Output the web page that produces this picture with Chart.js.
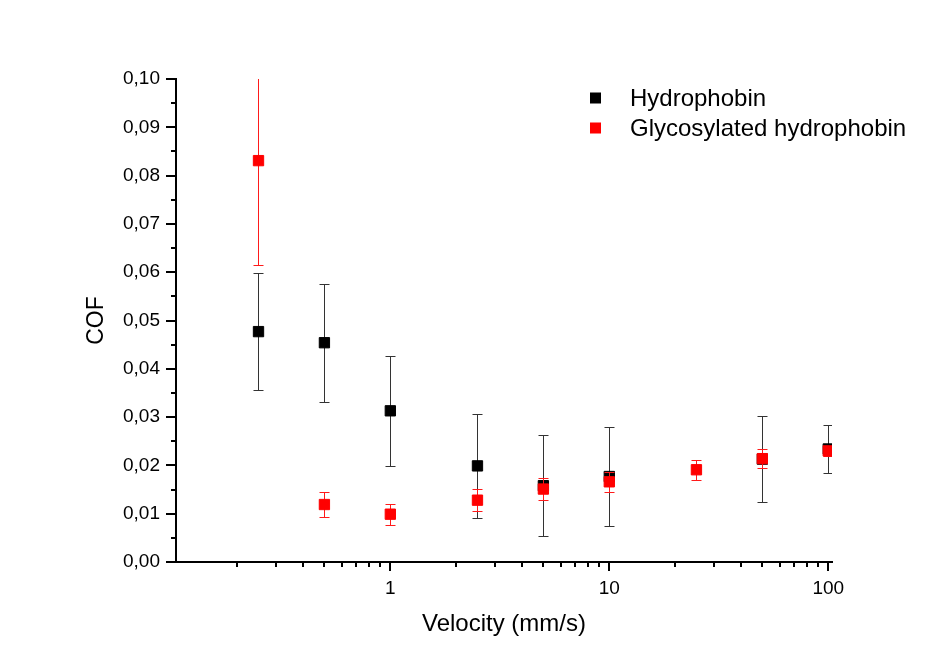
<!DOCTYPE html>
<html>
<head>
<meta charset="utf-8">
<script src="https://cdn.jsdelivr.net/npm/chart.js@4.4.1/dist/chart.umd.min.js"></script>
<style>
  html, body { margin: 0; padding: 0; background: #fff; }
  #wrap { width: 952px; height: 655px; }
</style>
</head>
<body>
<div id="wrap"><canvas id="myChart" width="952" height="655"></canvas></div>
<script>
'use strict';

// velocity in mm/s
let velocity = [0.25, 0.5, 1, 2.5, 5, 10, 25, 50, 100];

let hydCof = [0.0477, 0.0454, 0.0313, 0.0199, 0.0158, 0.0177, null, 0.0213, 0.0234];
let hydErr = [0.0121, 0.0122, 0.0114, 0.0107, 0.0105, 0.0103, null, 0.0089, 0.0050];

let glyCof = [0.0831, 0.0119, 0.0099, 0.0128, 0.0151, 0.0166, 0.0191, 0.0214, 0.0230];
let glyErr = [0.0216, 0.0026, 0.0022, 0.0023, 0.0023, 0.0021, 0.0021, 0.0019, 0.0010];

let xTicks = [1, 10, 100];
let seriesNames = ['Hydrophobin', 'Glycosylated hydrophobin'];

let fontFam = 'Arial, "Liberation Sans", sans-serif';

function toPoints(ys) {
  return velocity.map(function (v, i) {
    return { x: v, y: ys[i] };
  });
}

// error bars, drawn just before each dataset's squares
let errorBars = {
  id: 'errorBars',
  beforeDatasetDraw(chart, args) {
    let ds = chart.data.datasets[args.index];
    let xs = chart.scales.x;
    let ys = chart.scales.y;
    let area = chart.chartArea;
    let ctx = chart.ctx;
    ctx.save();
    ctx.beginPath();
    ctx.rect(area.left, area.top, area.right - area.left, area.bottom - area.top);
    ctx.clip();
    ctx.strokeStyle = ds.barColor;
    ctx.lineWidth = 1;
    for (let i = 0; i < velocity.length; i++) {
      let v = ds.data[i].y;
      let e = ds.errors[i];
      if (v === null || e === null) continue;
      let px = Math.round(xs.getPixelForValue(velocity[i])) + 0.5;
      let top = Math.round(ys.getPixelForValue(v + e)) + 0.5;
      let bot = Math.round(ys.getPixelForValue(v - e)) + 0.5;
      ctx.beginPath();
      ctx.moveTo(px, top);
      ctx.lineTo(px, bot);
      ctx.moveTo(px - 5, top);
      ctx.lineTo(px + 5, top);
      ctx.moveTo(px - 5, bot);
      ctx.lineTo(px + 5, bot);
      ctx.stroke();
    }
    ctx.restore();
  }
};

// minor ticks + legend
let extras = {
  id: 'extras',
  afterDraw(chart) {
    let ctx = chart.ctx;
    let xs = chart.scales.x;
    let ys = chart.scales.y;
    let area = chart.chartArea;
    ctx.save();
    ctx.strokeStyle = '#000';
    ctx.lineWidth = 2;
    ctx.beginPath();
    for (let v = 0.005; v < 0.1; v += 0.01) {
      let py = Math.round(ys.getPixelForValue(v));
      ctx.moveTo(area.left, py);
      ctx.lineTo(area.left - 5, py);
    }
    for (let dec = 0.1; dec < 100; dec *= 10) {
      for (let k = 2; k <= 9; k++) {
        let v = dec * k;
        if (v < xs.min || v > xs.max) continue;
        let px = Math.round(xs.getPixelForValue(v));
        ctx.moveTo(px, area.bottom);
        ctx.lineTo(px, area.bottom + 5);
      }
    }
    ctx.stroke();

    // legend
    ctx.font = '24px ' + fontFam;
    ctx.textBaseline = 'middle';
    ctx.textAlign = 'left';
    let rows = [98, 128];
    chart.data.datasets.forEach(function (ds, i) {
      ctx.fillStyle = ds.backgroundColor;
      ctx.fillRect(590, rows[i] - 5.5, 11, 11);
      ctx.fillStyle = '#000';
      ctx.fillText(ds.label, 630, rows[i] + 1);
    });
    ctx.restore();
  }
};

let chartEl = document.getElementById('myChart');
let ctx = chartEl.getContext('2d');

new Chart(ctx, {
  type: 'scatter',
  data: {
    datasets: [{
      label: seriesNames[0],
      data: toPoints(hydCof),
      errors: hydErr,
      barColor: '#333333',
      backgroundColor: '#000000',
      borderColor: '#000000',
      borderWidth: 1,
      pointStyle: 'rect',
      pointRadius: 7.3,
      order: 2
    }, {
      label: seriesNames[1],
      data: toPoints(glyCof),
      errors: glyErr,
      barColor: '#ff1a1a',
      backgroundColor: '#ff0000',
      borderColor: '#ff0000',
      borderWidth: 1,
      pointStyle: 'rect',
      pointRadius: 7.3,
      order: 1
    }]
  },
  options: {
    responsive: false,
    animation: false,
    layout: {
      padding: { left: 82.8, top: 79, right: 120, bottom: 16 }
    },
    plugins: {
      legend: { display: false },
      tooltip: { enabled: false }
    },
    scales: {
      x: {
        type: 'logarithmic',
        min: 0.105,
        max: 104,
        afterBuildTicks: function (scale) {
          scale.ticks = xTicks.map(function (v) { return { value: v }; });
        },
        afterFit: function (scale) {
          scale.height = 77;
        },
        border: { display: true, color: '#000', width: 2 },
        grid: {
          drawOnChartArea: false,
          drawTicks: true,
          tickLength: 9,
          color: '#000',
          lineWidth: 2
        },
        ticks: {
          color: '#000',
          padding: 6,
          maxRotation: 0,
          autoSkip: false,
          font: { family: fontFam, size: 19 },
          callback: function (v) { return String(v); }
        },
        title: {
          display: true,
          text: 'Velocity (mm/s)',
          color: '#000',
          padding: 0,
          font: { family: fontFam, size: 24 }
        }
      },
      y: {
        min: 0,
        max: 0.1,
        afterFit: function (scale) {
          scale.width = 176 - 82.8;
        },
        border: { display: true, color: '#000', width: 2 },
        grid: {
          drawOnChartArea: false,
          drawTicks: true,
          tickLength: 10,
          color: '#000',
          lineWidth: 2
        },
        ticks: {
          stepSize: 0.01,
          color: '#000',
          padding: 6,
          font: { family: fontFam, size: 19 },
          callback: function (v) { return v.toFixed(2).replace('.', ','); }
        },
        title: {
          display: true,
          text: 'COF',
          color: '#000',
          padding: 0,
          font: { family: fontFam, size: 23 }
        }
      }
    }
  },
  plugins: [errorBars, extras]
});
</script>
</body>
</html>
